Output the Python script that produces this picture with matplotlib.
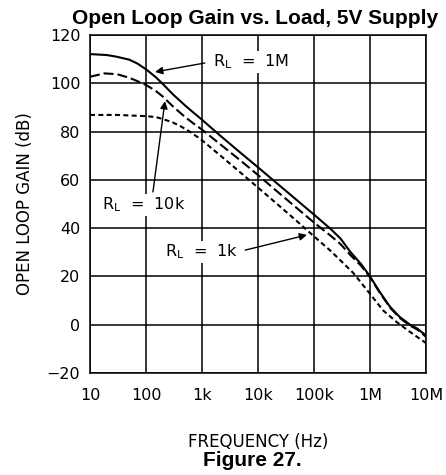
import numpy as np
import matplotlib.pyplot as plt

# Curve data (frequency in Hz, gain in dB)
freq_1m = [10, 20, 30, 50, 70, 100, 150, 200, 300, 500, 700, 1e3, 2e3, 5e3, 1e4, 2e4,
           5e4, 1e5, 2e5, 3e5, 4.4e5, 7e5, 1e6, 1.5e6, 2.3e6, 3.4e6, 5.2e6, 7e6, 1e7]
gain_1m = [112.1, 111.7, 111.0, 109.8, 108.2, 105.8, 102.5, 99.7, 95.5, 90.8, 87.9, 84.9,
           78.8, 71.0, 65.2, 59.3, 51.5, 45.6, 39.6, 35.6, 30.3, 25.0, 20.0, 13.5, 7.3,
           3.2, 0.0, -1.6, -4.5]

freq_10k = [10, 18, 30, 50, 70, 100, 150, 200, 300, 500, 700, 1e3, 2e3, 5e3, 1e4, 2e4,
            5e4, 1e5, 2e5, 3e5, 4.4e5, 7e5, 1e6, 1.5e6, 2.3e6, 3.4e6, 5.2e6, 7e6, 1e7]
gain_10k = [102.7, 104.1, 103.8, 102.3, 100.9, 99.3, 96.8, 94.5, 90.5, 86.0, 83.4, 80.8,
            75.2, 67.8, 62.0, 56.0, 48.2, 42.3, 36.8, 33.3, 29.0, 24.3, 19.7, 13.2, 7.0,
            2.8, -0.4, -2.0, -5.0]

freq_1k = [10, 30, 100, 150, 200, 300, 430, 600, 850, 1e3, 2e3, 5e3, 1e4, 2e4, 5e4, 1e5,
           2e5, 5e5, 1e6, 1.7e6, 3e6, 5.2e6, 1e7]
gain_1k = [86.9, 86.9, 86.4, 86.0, 85.2, 83.8, 82.0, 80.0, 77.6, 76.4, 70.6, 62.8, 56.8,
           50.8, 42.8, 36.6, 30.5, 21.5, 12.8, 6.0, 1.1, -3.0, -7.6]

x_ticks = [10, 100, 1e3, 1e4, 1e5, 1e6, 1e7]
x_tick_labels = ['10', '100', '1k', '10k', '100k', '1M', '10M']
y_ticks = [-20, 0, 20, 40, 60, 80, 100, 120]

fig = plt.figure(figsize=(4.46, 4.75), dpi=100)
ax = fig.add_axes([0.2018, 0.2147, 0.7534, 0.7116])

ax.plot(freq_1m, gain_1m, color='black', lw=1.5, solid_capstyle='butt')
ax.plot(freq_10k, gain_10k, color='black', lw=1.5, dashes=(4.8, 1.9))
ax.plot(freq_1k, gain_1k, color='black', lw=1.5, dashes=(2.4, 1.6))

ax.set_xscale('log')
ax.set_xlim(10, 1e7)
ax.set_ylim(-20, 120)
ax.set_xticks(x_ticks)
ax.set_xticklabels(x_tick_labels)
ax.set_yticks(y_ticks)
ax.minorticks_off()
ax.tick_params(length=0, labelsize=11.5)
ax.tick_params(axis='x', pad=11)
ax.tick_params(axis='y', pad=7)
ax.grid(True, color='black', lw=1.1)
for s in ax.spines.values():
    s.set_linewidth(1.1)

ax.set_xlabel('FREQUENCY (Hz)', fontsize=12, va='center')
ax.set_ylabel('OPEN LOOP GAIN (dB)', fontsize=12, va='center')
ax.xaxis.set_label_coords(0.5, -0.204)
ax.yaxis.set_label_coords(-0.193, 0.5)

# Annotations
box = dict(facecolor='white', edgecolor='none', pad=1.5)
arrow = dict(arrowstyle='-|>', color='black', lw=1, mutation_scale=11, shrinkA=0, shrinkB=0)

ax.annotate('', xy=(145, 104.7), xytext=(1.12e3, 108.4), arrowprops=arrow)
ax.text(1.58e3, 108.8, 'R$_\\mathregular{L}$  =  1M', fontsize=11.5, ha='left', va='center', bbox=box)

ax.annotate('', xy=(218, 92.6), xytext=(133, 55.0), arrowprops=arrow)
ax.text(16.4, 49.6, 'R$_\\mathregular{L}$  =  10k', fontsize=11.5, ha='left', va='center', bbox=box)

ax.annotate('', xy=(7.5e4, 37.2), xytext=(5.9e3, 30.9), arrowprops=arrow)
ax.text(218, 30.1, 'R$_\\mathregular{L}$  =  1k', fontsize=11.5, ha='left', va='center', bbox=box)

fig.text(255 / 446, 1 - 18 / 475, 'Open Loop Gain vs. Load, 5V Supply', fontsize=15,
         fontweight='bold', family='Liberation Sans', ha='center', va='center')
fig.text(252 / 446, 1 - 460 / 475, 'Figure 27.', fontsize=15,
         fontweight='bold', family='Liberation Sans', ha='center', va='center')

fig.savefig('out.png', dpi=100)
